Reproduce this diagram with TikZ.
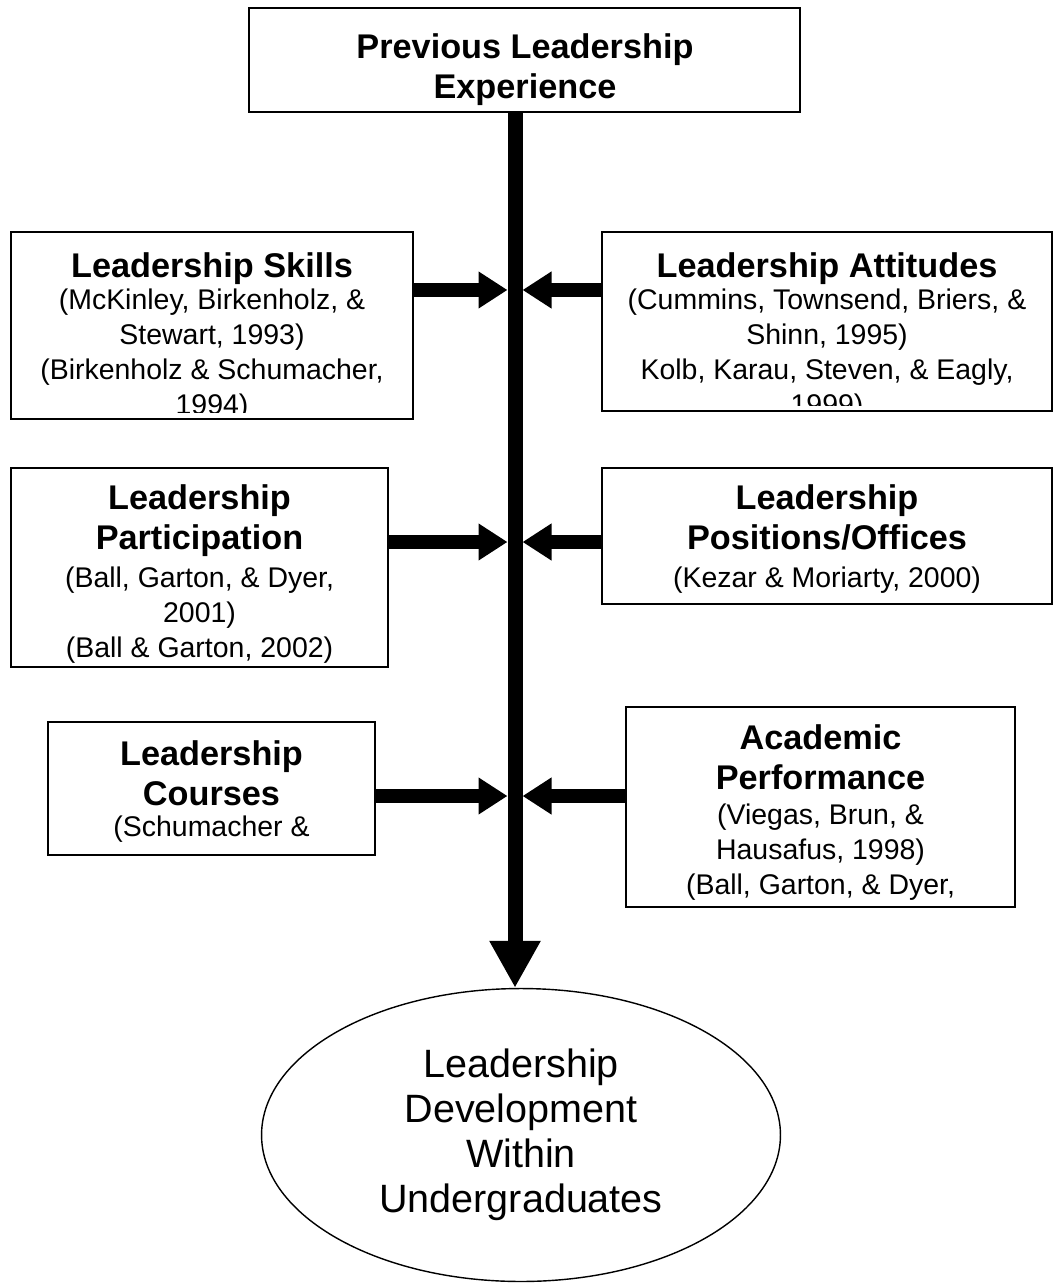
\documentclass[tikz,border=0pt]{standalone}
\usepackage{fontspec}
\setmainfont{Liberation Sans}
\usetikzlibrary{arrows.meta, fit, shapes.geometric}

\newcommand{\headfont}{\fontsize{19.5}{22.8}\selectfont\bfseries}
\newcommand{\citefont}{\fontsize{16.2}{19.9}\selectfont}
\newcommand{\bubblefont}{\fontsize{22.5}{25.6}\selectfont}

\tikzset{
  box/.style={draw, line width=1pt, inner sep=0pt},
  head/.style={font=\headfont, align=center, inner sep=0pt, anchor=north},
  cite/.style={font=\citefont, align=center, inner sep=0pt, anchor=north},
  feed/.style={line width=0.28cm, -{Triangle[length=0.58cm,width=0.7cm]}, shorten >=0.15cm},
  spine/.style={line width=0.3cm, -{Triangle[length=0.94cm,width=0.96cm]}},
}

\begin{document}
\begin{tikzpicture}[x=0.02cm, y=-0.02cm]
\useasboundingbox (0,0) rectangle (1054,1283);

% boxes
\node[box, fit={(249,8) (800,112)}] (prev) {};
\node[box, fit={(11,232) (413,419)}] (skills) {};
\node[box, fit={(602,232) (1052,411)}] (attitudes) {};
\node[box, fit={(11,468) (388,667)}] (particip) {};
\node[box, fit={(602,468) (1052,604)}] (offices) {};
\node[box, fit={(48,722) (375,855)}] (courses) {};
\node[box, fit={(626,707) (1015,907)}] (academic) {};
\node[draw, ellipse, line width=0.8pt, minimum width=10.38cm, minimum height=5.86cm,
      font=\bubblefont, align=center] (dev) at (521,1135)
      {Leadership\\Development\\Within\\Undergraduates};

% texts
\node[head] at (525,33.5) {Previous Leadership\\Experience};

\node[head] at (skills.center |- 0,252.5) {Leadership Skills};
\begin{scope}
\clip (skills.north west) rectangle (413,412);
\node[cite] at (skills.center |- 0,289) {(McKinley, Birkenholz, \&\\Stewart, 1993)\\(Birkenholz \& Schumacher,\\1994)};
\end{scope}

\node[head] at (attitudes.center |- 0,252.5) {Leadership Attitudes};
\begin{scope}
\clip (attitudes.north west) rectangle (1052,405);
\node[cite] at (attitudes.center |- 0,289) {(Cummins, Townsend, Briers, \&\\Shinn, 1995)\\Kolb, Karau, Steven, \& Eagly,\\1999)};
\end{scope}

\node[head] at (particip.center |- 0,484.5) {Leadership\\Participation};
\node[cite] at (particip.center |- 0,567) {(Ball, Garton, \& Dyer,\\2001)\\(Ball \& Garton, 2002)};

\node[head] at (offices.center |- 0,484.5) {Leadership\\Positions/Offices};
\node[cite] at (offices.center |- 0,567) {(Kezar \& Moriarty, 2000)};

\node[head] at (courses.center |- 0,740.5) {Leadership\\Courses};
\node[cite] at (courses.center |- 0,816) {(Schumacher \&};

\node[head] at (academic.center |- 0,724.5) {Academic\\Performance};
\node[cite] at (academic.center |- 0,804) {(Viegas, Brun, \&\\Hausafus, 1998)\\(Ball, Garton, \& Dyer,};

% arrows
\coordinate (j1) at (515,290);
\coordinate (j2) at (515,542);
\coordinate (j3) at (515,796);

\draw[spine] (prev.south -| j1) -- (j1 |- dev.north);

\draw[feed] (skills.east |- j1) -- (j1);
\draw[feed] (attitudes.west |- j1) -- (j1);
\draw[feed] (particip.east |- j2) -- (j2);
\draw[feed] (offices.west |- j2) -- (j2);
\draw[feed] (courses.east |- j3) -- (j3);
\draw[feed] (academic.west |- j3) -- (j3);
\end{tikzpicture}
\end{document}
